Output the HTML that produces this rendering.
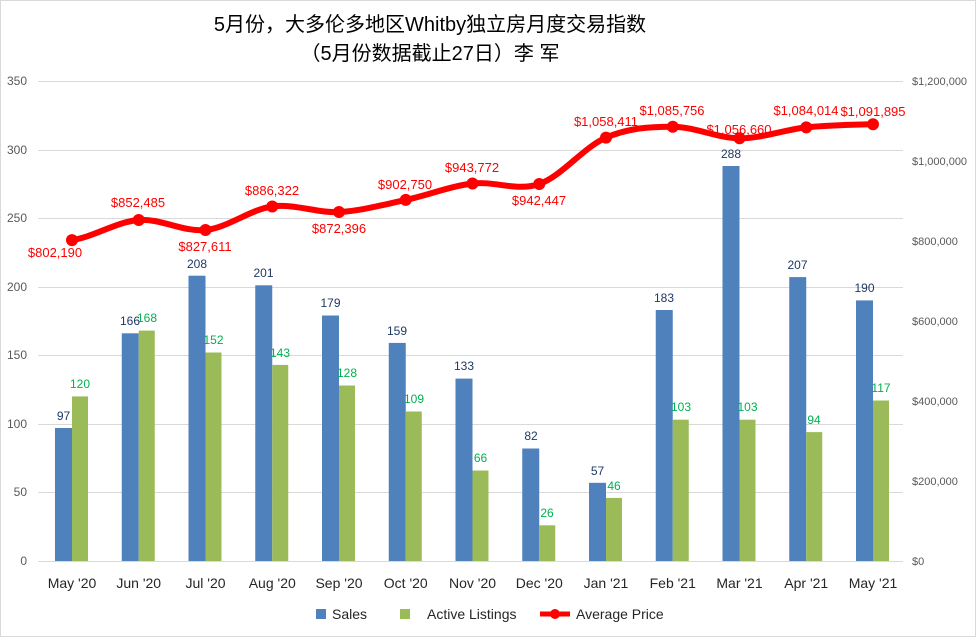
<!DOCTYPE html>
<html><head><meta charset="utf-8"><style>
body{margin:0;background:#fff}
svg{display:block;font-family:"Liberation Sans","Noto Sans CJK SC",sans-serif}
</style></head><body>
<svg width="977" height="638" viewBox="0 0 977 638" xmlns="http://www.w3.org/2000/svg">
<rect x="0.5" y="0.5" width="975" height="636" fill="#fff" stroke="#d9d9d9"/>
<text x="430" y="31" font-size="20" text-anchor="middle" fill="#000">5月份，大多伦多地区Whitby独立房月度交易指数</text>
<text x="430" y="60" font-size="20" text-anchor="middle" fill="#000">（5月份数据截止27日）李 军</text>
<g stroke="#d9d9d9" stroke-width="1">
<line x1="38" x2="903" y1="81.5" y2="81.5"/><line x1="38" x2="903" y1="150.5" y2="150.5"/>
<line x1="38" x2="903" y1="218.5" y2="218.5"/><line x1="38" x2="903" y1="287.5" y2="287.5"/>
<line x1="38" x2="903" y1="355.5" y2="355.5"/><line x1="38" x2="903" y1="424.5" y2="424.5"/>
<line x1="38" x2="903" y1="492.5" y2="492.5"/><line x1="38" x2="903" y1="561.5" y2="561.5"/>
</g>
<g font-size="12" fill="#595959" text-anchor="end">
<text x="27" y="85">350</text><text x="27" y="154">300</text><text x="27" y="222">250</text><text x="27" y="291">200</text>
<text x="27" y="359">150</text><text x="27" y="428">100</text><text x="27" y="496">50</text><text x="27" y="565">0</text>
</g>
<g font-size="11" fill="#595959">
<text x="912" y="85">$1,200,000</text><text x="912" y="165">$1,000,000</text><text x="912" y="245">$800,000</text>
<text x="912" y="325">$600,000</text><text x="912" y="405">$400,000</text><text x="912" y="485">$200,000</text><text x="912" y="565">$0</text>
</g>
<g fill="#4F81BD">
<rect x="55" y="428" width="17" height="133"/><rect x="121.75" y="333.3" width="17" height="227.7"/>
<rect x="188.5" y="275.7" width="17" height="285.3"/><rect x="255.25" y="285.3" width="17" height="275.7"/>
<rect x="322" y="315.5" width="17" height="245.5"/><rect x="388.75" y="342.9" width="17" height="218.1"/>
<rect x="455.5" y="378.6" width="17" height="182.4"/><rect x="522.25" y="448.5" width="17" height="112.5"/>
<rect x="589" y="482.8" width="17" height="78.2"/><rect x="655.75" y="310" width="17" height="251"/>
<rect x="722.5" y="166" width="17" height="395"/><rect x="789.25" y="277.1" width="17" height="283.9"/>
<rect x="856" y="300.4" width="17" height="260.6"/>
</g>
<g fill="#9BBB59">
<rect x="72" y="396.4" width="16" height="164.6"/><rect x="138.75" y="330.6" width="16" height="230.4"/>
<rect x="205.5" y="352.5" width="16" height="208.5"/><rect x="272.25" y="364.9" width="16" height="196.1"/>
<rect x="339" y="385.5" width="16" height="175.5"/><rect x="405.75" y="411.5" width="16" height="149.5"/>
<rect x="472.5" y="470.5" width="16" height="90.5"/><rect x="539.25" y="525.3" width="16" height="35.7"/>
<rect x="606" y="497.9" width="16" height="63.1"/><rect x="672.75" y="419.7" width="16" height="141.3"/>
<rect x="739.5" y="419.7" width="16" height="141.3"/><rect x="806.25" y="432.1" width="16" height="128.9"/>
<rect x="873" y="400.5" width="16" height="160.5"/>
</g>
<g font-size="12" fill="#1F3864" text-anchor="middle">
<text x="63.5" y="420">97</text><text x="130" y="325">166</text><text x="197" y="268">208</text><text x="263.5" y="277">201</text>
<text x="330.5" y="307">179</text><text x="397" y="335">159</text><text x="464" y="370">133</text><text x="531" y="440">82</text>
<text x="597.5" y="475">57</text><text x="664" y="302">183</text><text x="731" y="158">288</text><text x="797.5" y="269">207</text><text x="864.5" y="292">190</text>
</g>
<g font-size="12" fill="#00B050" text-anchor="middle">
<text x="80" y="388">120</text><text x="147" y="322">168</text><text x="213.5" y="344">152</text><text x="280" y="357">143</text>
<text x="347" y="377">128</text><text x="414" y="403">109</text><text x="480.5" y="462">66</text><text x="547" y="517">26</text>
<text x="614" y="490">46</text><text x="681" y="411">103</text><text x="747.5" y="411">103</text><text x="814" y="424">94</text><text x="881" y="392">117</text>
</g>
<path d="M72,240.1 C94.25,236.75 116.5,221.68 138.75,220 C161,218.32 183.25,232.25 205.5,230 C227.75,227.75 250,209.5 272.25,206.5 C294.5,203.5 316.75,213.1 339,212 C361.25,210.9 383.5,204.65 405.75,199.9 C428,195.15 450.25,186.15 472.5,183.5 C494.75,180.85 517,191.65 539.25,184 C561.5,176.35 583.75,147.15 606,137.6 C628.25,128.05 650.5,126.58 672.75,126.7 C695,126.82 717.25,138.18 739.5,138.3 C761.75,138.42 784,129.75 806.25,127.4 C828.5,125.05 850.75,124.73 873,124.2" fill="none" stroke="#FF0000" stroke-width="6" stroke-linejoin="round"/>
<g fill="#FF0000">
<circle cx="72" cy="240.1" r="6"/><circle cx="138.75" cy="220" r="6"/><circle cx="205.5" cy="230" r="6"/>
<circle cx="272.25" cy="206.5" r="6"/><circle cx="339" cy="212" r="6"/><circle cx="405.75" cy="199.9" r="6"/>
<circle cx="472.5" cy="183.5" r="6"/><circle cx="539.25" cy="184" r="6"/><circle cx="606" cy="137.6" r="6"/>
<circle cx="672.75" cy="126.7" r="6"/><circle cx="739.5" cy="138.3" r="6"/><circle cx="806.25" cy="127.4" r="6"/>
<circle cx="873" cy="124.2" r="6"/>
</g>
<g font-size="13" fill="#FF0000" text-anchor="middle">
<text x="55" y="257">$802,190</text><text x="138" y="207">$852,485</text><text x="205" y="251">$827,611</text>
<text x="272" y="195">$886,322</text><text x="339" y="233">$872,396</text><text x="405" y="189">$902,750</text>
<text x="472" y="172">$943,772</text><text x="539" y="205">$942,447</text><text x="606" y="126">$1,058,411</text>
<text x="672" y="115">$1,085,756</text><text x="739" y="134">$1,056,660</text><text x="806" y="115">$1,084,014</text>
<text x="873" y="116">$1,091,895</text>
</g>
<g font-size="14" fill="#262626" text-anchor="middle">
<text x="72" y="588">May '20</text><text x="138.75" y="588">Jun '20</text><text x="205.5" y="588">Jul '20</text>
<text x="272.25" y="588">Aug '20</text><text x="339" y="588">Sep '20</text><text x="405.75" y="588">Oct '20</text>
<text x="472.5" y="588">Nov '20</text><text x="539.25" y="588">Dec '20</text><text x="606" y="588">Jan '21</text>
<text x="672.75" y="588">Feb '21</text><text x="739.5" y="588">Mar '21</text><text x="806.25" y="588">Apr '21</text>
<text x="873" y="588">May '21</text>
</g>
<g font-size="14" fill="#262626">
<rect x="316" y="609" width="10" height="10" fill="#4F81BD"/><text x="332" y="619">Sales</text>
<rect x="400" y="609" width="10" height="10" fill="#9BBB59"/><text x="427" y="619">Active Listings</text>
<line x1="540" x2="570" y1="614" y2="614" stroke="#FF0000" stroke-width="5"/><circle cx="555" cy="614" r="5" fill="#FF0000"/>
<text x="576" y="619">Average Price</text>
</g>
</svg>
</body></html>
